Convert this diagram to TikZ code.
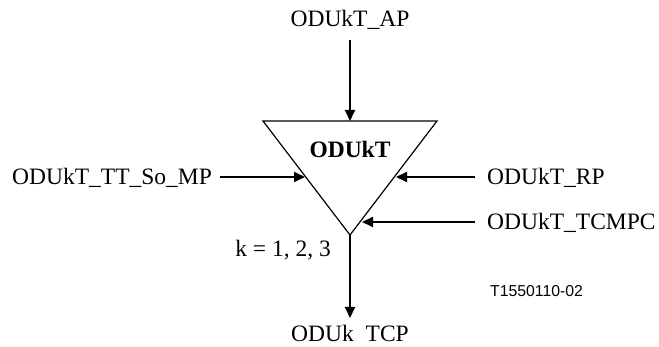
\documentclass[tikz,border=0pt]{standalone}
\usepackage{fontspec}
\setmainfont{Liberation Serif}
\newfontfamily\labsans{Liberation Sans}
\usetikzlibrary{arrows.meta}
\begin{document}
\begin{tikzpicture}[x=1pt,y=-1pt,
  lbl/.style={inner sep=0pt,anchor=base,font=\fontsize{23.5}{27}\selectfont},
  conn/.style={line width=1.8pt,-{Triangle[length=11pt,width=10pt]}},
  tri/.style={line width=1.2pt}]
\useasboundingbox (0,0) rectangle (659,347);
% triangle
\coordinate (tl) at (263,121);
\coordinate (tr) at (437,121);
\coordinate (apex) at (350,235);
\draw[tri] (tl) -- (tr) -- (apex) -- cycle;
\node[lbl,font=\fontsize{23.5}{27}\selectfont\bfseries] (name) at (350,158) {ODUkT};
% connection points on the triangle
\coordinate (topin) at (350,121);
\coordinate (leftin) at (305,177);
\coordinate (rpin) at (396,177);
\coordinate (tcin) at (362,222);
% labels
\node[lbl] (ap) at (350,27) {ODUkT\_AP};
\node[lbl,anchor=base west] (so) at (12,185) {ODUkT\_TT\_So\_MP};
\node[lbl,anchor=base west] (rp) at (487,185) {ODUkT\_RP};
\node[lbl,anchor=base west] (tc) at (487,230) {ODUkT\_TCMPC};
\node[lbl,anchor=base east] (k) at (331,257) {k = 1, 2, 3};
\node[lbl] (tcp) at (350,342) {ODUk\phantom{\_}TCP};
\node[inner sep=0pt,anchor=base west,font=\labsans\fontsize{15.8}{18}\selectfont] (id) at (490,297) {T1550110-02};
% free ends
\coordinate (apend) at (350,40);
\coordinate (soend) at (220,177);
\coordinate (rpend) at (475,177);
\coordinate (tcend) at (475,222);
\coordinate (tcpend) at (350,318);
% connectors
\draw[conn] (apend) -- (topin);
\draw[conn] (soend) -- (leftin);
\draw[conn] (rpend) -- (rpin);
\draw[conn] (tcend) -- (tcin);
\draw[conn] (apex) -- (tcpend);
\end{tikzpicture}
\end{document}
